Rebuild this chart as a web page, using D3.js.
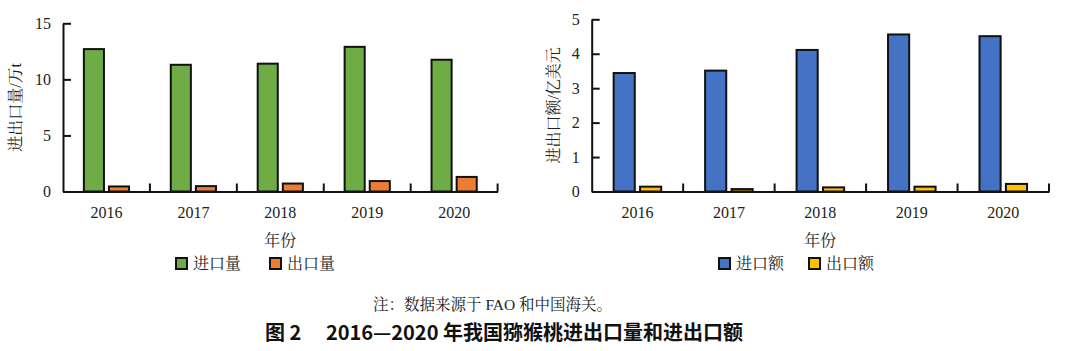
<!DOCTYPE html>
<html>
<head>
<meta charset="utf-8">
<script src="https://cdn.jsdelivr.net/npm/d3@7"></script>
<style>
	body { margin: 0; background: #fff; }
	svg { display: block; }
	.serif { font-family: "Liberation Serif", "Noto Serif CJK SC", "Noto Sans CJK SC", serif; fill: #222; }
	.domain { stroke: #111; stroke-width: 2; }
	.tick line { stroke: #111; stroke-width: 2; }
</style>
</head>
<body>
<svg></svg>
<script>
const years = ['2016', '2017', '2018', '2019', '2020'];

// 进出口量（万t）
const importVolume = [12.7, 11.3, 11.4, 12.9, 11.75];
const exportVolume = [0.45, 0.48, 0.71, 0.93, 1.3];

// 进出口额（亿美元）
const importValue = [3.44, 3.51, 4.11, 4.56, 4.51];
const exportValue = [0.14, 0.07, 0.12, 0.14, 0.22];

const volumeTicks = [0, 5, 10, 15];
const valueTicks = [0, 1, 2, 3, 4, 5];

const width = 1080;
const height = 351;

const svg = d3.select('svg')
	.attr('width', width)
	.attr('height', height);

function render(opts) {
	const { left, right, top, max, ticks, series, colors, names, yTitle, yTitleX, legendX } = opts;
	const bottom = 191.5;

	const xScale = d3.scaleBand()
		.domain(years)
		.range([left, right]);

	const bw = xScale.bandwidth();
	const xInner = d3.scaleBand()
		.domain(names)
		.range([bw * 0.24, bw * 0.76])
		.paddingInner(0.2);

	const yScale = d3.scaleLinear()
		.domain([0, max])
		.range([bottom, top]);

	const g = svg.append('g');

	// bars
	const groups = g.selectAll('g.year').data(years)
		.enter().append('g')
			.attr('class', 'year')
			.attr('transform', d => `translate(${xScale(d)},0)`);

	groups.selectAll('rect')
		.data((d, i) => names.map((n, j) => ({ name: n, value: series[j][i], color: colors[j] })))
		.enter().append('rect')
			.attr('x', d => xInner(d.name))
			.attr('width', xInner.bandwidth())
			.attr('y', d => yScale(d.value))
			.attr('height', d => bottom - yScale(d.value))
			.attr('fill', d => d.color)
			.attr('stroke', '#111')
			.attr('stroke-width', 2);

	// y axis
	g.append('g')
		.attr('transform', `translate(${left},0)`)
		.call(d3.axisLeft(yScale).tickValues(ticks).tickFormat(d3.format('d'))
			.tickSize(-8).tickSizeOuter(0).tickPadding(12));

	// x axis labels + boundary ticks
	const xAxisG = g.append('g')
		.attr('transform', `translate(0,${bottom})`)
		.call(d3.axisBottom(xScale).tickSize(0).tickPadding(15));

	xAxisG.selectAll('.boundary').data(years)
		.enter().append('line')
			.attr('class', 'boundary')
			.attr('x1', d => xScale(d) + bw)
			.attr('x2', d => xScale(d) + bw)
			.attr('y1', 0)
			.attr('y2', -8)
			.attr('stroke', '#111')
			.attr('stroke-width', 2);

	g.selectAll('.tick text')
		.style('font-family', '"Liberation Serif", serif')
		.style('font-size', '16px')
		.attr('fill', '#222');

	// axis titles
	g.append('text')
		.attr('class', 'serif')
		.attr('transform', `translate(${yTitleX},${(top + bottom) / 2}) rotate(-90)`)
		.attr('text-anchor', 'middle')
		.attr('dy', '0.35em')
		.style('font-size', '16px')
		.text(yTitle);

	g.append('text')
		.attr('class', 'serif')
		.attr('x', (left + right) / 2)
		.attr('y', 246)
		.attr('text-anchor', 'middle')
		.style('font-size', '16px')
		.text('年份');

	// legend
	const legend = g.selectAll('g.legend').data(names)
		.enter().append('g')
			.attr('class', 'legend')
			.attr('transform', (d, i) => `translate(${legendX[i]},258)`);

	legend.append('rect')
		.attr('width', 11)
		.attr('height', 11)
		.attr('fill', (d, i) => colors[i])
		.attr('stroke', '#111')
		.attr('stroke-width', 2);

	legend.append('text')
		.attr('class', 'serif')
		.attr('x', 17)
		.attr('y', 11)
		.style('font-size', '16px')
		.text(d => d);
}

render({
	left: 63, right: 497.6, top: 23.3, max: 15, ticks: volumeTicks,
	series: [importVolume, exportVolume],
	colors: ['#6fac46', '#ed7d31'],
	names: ['进口量', '出口量'],
	yTitle: '进出口量/万t', yTitleX: 15,
	legendX: [176, 270]
});

render({
	left: 591.7, right: 1049, top: 19.3, max: 5, ticks: valueTicks,
	series: [importValue, exportValue],
	colors: ['#4472c4', '#ffc000'],
	names: ['进口额', '出口额'],
	yTitle: '进出口额/亿美元', yTitleX: 553,
	legendX: [719, 809]
});

svg.append('text')
	.attr('class', 'serif')
	.attr('x', 373)
	.attr('y', 310)
	.style('font-size', '15.5px')
	.text('注：数据来源于 FAO 和中国海关。');

svg.append('text')
	.attr('x', 265)
	.attr('y', 340)
	.style('font-family', '"Noto Sans CJK SC", sans-serif')
	.style('font-weight', 'bold')
	.style('font-size', '20px')
	.attr('fill', '#111')
	.text('图 2\u2003\u00a02016—2020 年我国猕猴桃进出口量和进出口额');
</script>
</body>
</html>
